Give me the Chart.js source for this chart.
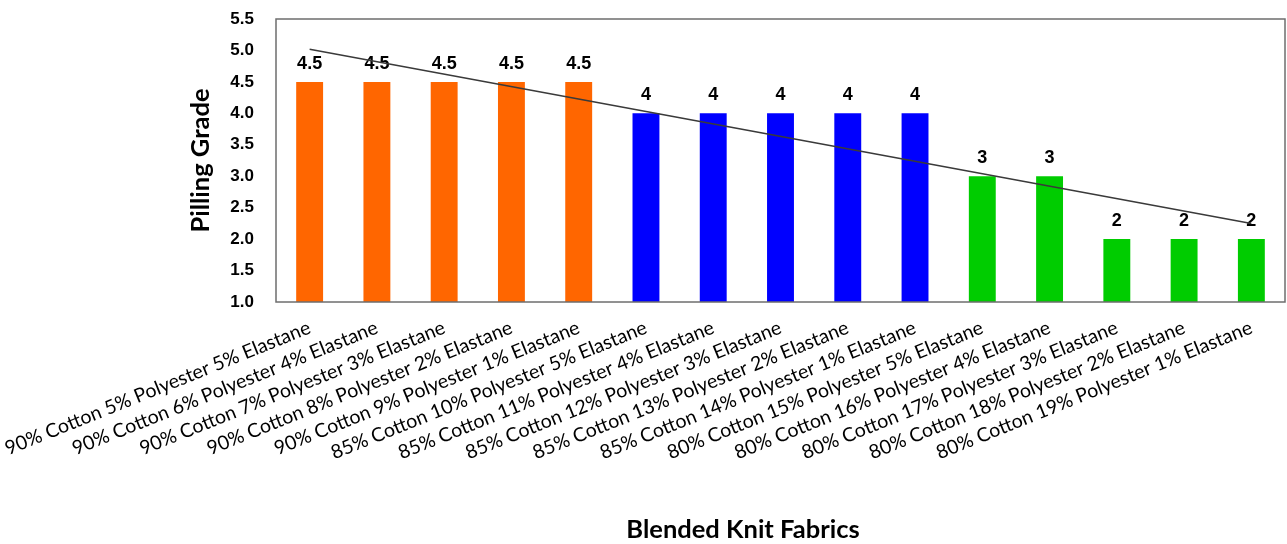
<!DOCTYPE html>
<html>
<head>
<meta charset="utf-8">
<script src="https://cdn.jsdelivr.net/npm/chart.js@4/dist/chart.umd.min.js"></script>
<style>
  html, body { margin: 0; padding: 0; background: #fff; }
  #wrap { width: 1287px; height: 544px; position: relative; }
</style>
</head>
<body>
<div id="wrap"><canvas id="chart"></canvas></div>
<script>
// ====================================
// Data
// ====================================
const fabrics = [
  '90% Cotton 5% Polyester 5% Elastane',
  '90% Cotton 6% Polyester 4% Elastane',
  '90% Cotton 7% Polyester 3% Elastane',
  '90% Cotton 8% Polyester 2% Elastane',
  '90% Cotton 9% Polyester 1% Elastane',
  '85% Cotton 10% Polyester 5% Elastane',
  '85% Cotton 11% Polyester 4% Elastane',
  '85% Cotton 12% Polyester 3% Elastane',
  '85% Cotton 13% Polyester 2% Elastane',
  '85% Cotton 14% Polyester 1% Elastane',
  '80% Cotton 15% Polyester 5% Elastane',
  '80% Cotton 16% Polyester 4% Elastane',
  '80% Cotton 17% Polyester 3% Elastane',
  '80% Cotton 18% Polyester 2% Elastane',
  '80% Cotton 19% Polyester 1% Elastane'
];
const pillingGrade = [4.5, 4.5, 4.5, 4.5, 4.5, 4, 4, 4, 4, 4, 3, 3, 2, 2, 2];
const valueLabels = ['4.5', '4.5', '4.5', '4.5', '4.5', '4', '4', '4', '4', '4', '3', '3', '2', '2', '2'];
// trend line: only the two ends are drawn
const trendLine = [5.02, null, null, null, null, null, null, null, null, null, null, null, null, null, 2.25];
const barColors = [
  '#ff6600', '#ff6600', '#ff6600', '#ff6600', '#ff6600',
  '#0000ff', '#0000ff', '#0000ff', '#0000ff', '#0000ff',
  '#00cc00', '#00cc00', '#00cc00', '#00cc00', '#00cc00'
];
const yTicks = ['1.0', '1.5', '2.0', '2.5', '3.0', '3.5', '4.0', '4.5', '5.0', '5.5'];

// ====================================
// Plugins
// ====================================
const valueLabelPlugin = {
  id: 'valueLabels',
  beforeDatasetsDraw(chart) {
    const ctx = chart.ctx;
    const meta = chart.getDatasetMeta(1); // the bars
    ctx.save();
    ctx.font = 'bold 18px "Liberation Sans", Arial, sans-serif';
    ctx.fillStyle = '#000';
    ctx.textAlign = 'center';
    ctx.textBaseline = 'alphabetic';
    meta.data.forEach((bar, i) => {
      ctx.fillText(valueLabels[i], bar.x, bar.y - 13);
    });
    ctx.restore();
  }
};

const frameAndTitlePlugin = {
  id: 'frameAndTitle',
  afterDraw(chart) {
    const ctx = chart.ctx;
    const a = chart.chartArea;
    ctx.save();
    ctx.strokeStyle = '#6e6e6e';
    ctx.lineWidth = 1.5;
    ctx.strokeRect(a.left, a.top, a.right - a.left, a.bottom - a.top);
    // x axis title sits a bit left of the plot centre
    ctx.font = 'bold 25.5px Lato, "Open Sans", sans-serif';
    ctx.fillStyle = '#000';
    ctx.textAlign = 'center';
    ctx.textBaseline = 'middle';
    ctx.fillText('Blended Knit Fabrics', 743, 530);
    ctx.restore();
  }
};

// ====================================
// Chart
// ====================================
new Chart(document.getElementById('chart'), {
  data: {
    labels: fabrics,
    datasets: [
      {
        type: 'line',
        label: 'Trend',
        data: trendLine,
        spanGaps: true,
        borderColor: '#3a3a3a',
        borderWidth: 1.5,
        pointRadius: 0,
        fill: false,
        order: 0
      },
      {
        type: 'bar',
        label: 'Pilling Grade',
        data: pillingGrade,
        backgroundColor: barColors,
        borderWidth: 0,
        barPercentage: 0.4,
        categoryPercentage: 1.0,
        order: 1
      }
    ]
  },
  options: {
    responsive: true,
    maintainAspectRatio: false,
    animation: false,
    layout: { padding: { top: 19, right: 2, left: 0, bottom: 0 } },
    plugins: {
      legend: { display: false },
      tooltip: { enabled: false }
    },
    scales: {
      x: {
        offset: true,
        grid: { display: false },
        border: { display: false },
        ticks: {
          color: '#000',
          font: { family: 'Lato, "Open Sans", sans-serif', size: 19.5 },
          minRotation: 22,
          maxRotation: 22,
          autoSkip: false,
          padding: 6
        },
        afterFit(scale) {
          scale.height = 242;
          // long rotated labels must not push the plot area around
          scale.paddingLeft = 0;
          scale.paddingRight = 0;
          scale.paddingTop = 0;
          scale.paddingBottom = 0;
        }
      },
      y: {
        min: 1,
        max: 5.5,
        grid: { display: false },
        border: { display: false },
        ticks: {
          stepSize: 0.5,
          color: '#000',
          font: { family: '"Liberation Sans", Arial, sans-serif', size: 17, weight: 'bold' },
          padding: 14,
          callback: (v, i) => yTicks[i]
        },
        title: {
          display: true,
          text: 'Pilling Grade',
          color: '#000',
          font: { family: 'Lato, "Open Sans", sans-serif', size: 25.5, weight: 'bold' },
          padding: { top: 185, bottom: 0 }
        },
        afterFit(scale) {
          scale.width = 276;
          scale.paddingTop = 0;
          scale.paddingBottom = 0;
        }
      }
    }
  },
  plugins: [valueLabelPlugin, frameAndTitlePlugin]
});
</script>
</body>
</html>
